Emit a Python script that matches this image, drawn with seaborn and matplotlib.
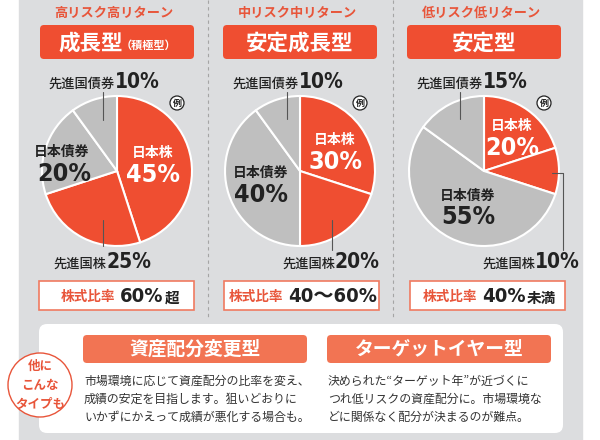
import numpy as np
import pandas as pd
import seaborn as sns
import matplotlib.pyplot as plt
from matplotlib.patches import FancyBboxPatch, Circle

# Data
risk_titles = ['高リスク高リターン', '中リスク中リターン', '低リスク低リターン']
fund_types = ['成長型', '安定成長型', '安定型']
fund_notes = ['（積極型）', '', '']
assets = ['日本株', '先進国株', '日本債券', '先進国債券']
growth = [45, 25, 20, 10]
balanced = [30, 20, 40, 10]
stable = [20, 10, 55, 15]
stock_ratio = ['60%', '40〜60%', '40%']
stock_suffix = ['超', '', '未満']
other_titles = ['資産配分変更型', 'ターゲットイヤー型']
other_texts = [
    ['市場環境に応じて資産配分の比率を変え、', '成績の安定を目指します。狙いどおりに', 'いかずにかえって成績が悪化する場合も。'],
    ['決められた“ターゲット年”が近づくに', 'つれ低リスクの資産配分に。市場環境な', 'どに関係なく配分が決まるのが難点。'],
]

sns.set_theme(style='white')
plt.rcParams['font.family'] = ['Noto Sans CJK JP', 'DejaVu Sans']
NUM = dict(family=['DejaVu Sans', 'Noto Sans CJK JP'], fontstretch='condensed', fontweight='bold')

RED = '#ef4e31'
GREY = '#bfbfbf'
PANEL = '#dcdddf'
TXT_RED = '#e8553a'
SALMON = '#f27453'
DARK = '#222222'

fig = plt.figure(figsize=(6, 4.4), dpi=100)
fig.patch.set_facecolor('white')
ax = fig.add_axes([0, 0, 1, 1])
renderer = fig.canvas.get_renderer()


def set_frame():
    ax.set_xlim(0, 600)
    ax.set_ylim(440, 0)
    ax.set_aspect('auto')


def right_edge(t):
    bb = t.get_window_extent(renderer=renderer)
    return ax.transData.inverted().transform((bb.x1, bb.y0))[0]


set_frame()

# background panel
ax.add_patch(plt.Rectangle((19, -5), 563, 450, color=PANEL, zorder=0))
for x in [208, 393]:
    ax.plot([x, x], [0, 318], ls=(0, (3, 3)), color='#a5a5a5', lw=0.8, zorder=1)

centers = [117, 300, 484]
shares = [growth, balanced, stable]
colors = [RED, RED, GREY, GREY]

# pies first (pie resets the axis limits)
for i, cx in enumerate(centers):
    ax.pie(shares[i], colors=colors, startangle=-90, counterclock=True,
           center=(cx, 171), radius=75,
           wedgeprops=dict(edgecolor='white', linewidth=1.5))
set_frame()

# layout of labels per pie
top_lab = [(115, 88), (299, 88), (483, 88)]
bot_lab = [(106, 268), (335, 268), (535, 268)]
jp_stock = [((153, 153), (153, 175)), ((335, 140), (335, 162)), ((512, 126), (512, 148))]
jp_bond = [((62, 152), (64, 174)), ((261, 173), (261, 195)), ((468, 196), (468, 217))]
leaders = [
    [[(103, 92), (103, 120)], [(103, 220), (103, 246)]],
    [[(287, 92), (287, 119)], [(332, 220), (332, 250)]],
    [[(460, 92), (460, 119)], [(552, 173), (563, 173), (563, 250)]],
]

for i, cx in enumerate(centers):
    vals = shares[i]

    # header
    ax.text(cx - 3, 13, risk_titles[i], ha='center', va='center', color=TXT_RED,
            fontsize=9.5, fontweight='bold')
    ax.add_patch(FancyBboxPatch((cx - 77, 25), 154, 34,
                                boxstyle='round,pad=0,rounding_size=4',
                                fc=RED, ec='none', zorder=3))
    if fund_notes[i]:
        ax.text(cx + 6, 43, fund_types[i], ha='right', va='center', color='white',
                fontsize=15.5, fontweight='bold', zorder=4)
        ax.text(cx + 4, 45, fund_notes[i], ha='left', va='center', color='white',
                fontsize=8, fontweight='bold', zorder=4)
    else:
        ax.text(cx, 43, fund_types[i], ha='center', va='center', color='white',
                fontsize=15.5, fontweight='bold', zorder=4)

    # outer labels
    x, y = top_lab[i]
    ax.text(x, y, assets[3], ha='right', va='baseline', color=DARK, fontsize=9.5, fontweight='medium')
    ax.text(x, y, f'{vals[3]}%', ha='left', va='baseline', color=DARK, fontsize=15, **NUM)
    x, y = bot_lab[i]
    ax.text(x, y, assets[1], ha='right', va='baseline', color=DARK, fontsize=9.5, fontweight='medium')
    ax.text(x, y, f'{vals[1]}%', ha='left', va='baseline', color=DARK, fontsize=15, **NUM)
    for seg in leaders[i]:
        xs, ys = zip(*seg)
        ax.plot(xs, ys, color='#555555', lw=0.8, zorder=3)

    # inner labels
    (nx, ny), (px, py) = jp_stock[i]
    ax.text(nx, ny, assets[0], ha='center', va='center', color='white', fontsize=10, fontweight='bold')
    ax.text(px, py, f'{vals[0]}%', ha='center', va='center', color='white', fontsize=18, **NUM)
    (nx, ny), (px, py) = jp_bond[i]
    ax.text(nx, ny, assets[2], ha='center', va='center', color=DARK, fontsize=10, fontweight='bold')
    ax.text(px, py, f'{vals[2]}%', ha='center', va='center', color=DARK, fontsize=18, **NUM)

    # example mark
    ex = cx + 60
    ax.add_patch(Circle((ex, 103), 7, fc='white', ec=DARK, lw=0.9, zorder=4))
    ax.text(ex, 103, '例', ha='center', va='center', fontsize=6.5, fontweight='bold', color=DARK, zorder=5)

    # stock ratio box
    bx = [39, 224, 410][i]
    ax.add_patch(plt.Rectangle((bx, 281), 155, 29, fc='white', ec='#f07a60', lw=1.2, zorder=3))
    sx = [115, 283, 477][i]
    ax.text(sx, 297, '株式比率', ha='right', va='center', color=TXT_RED, fontsize=9.8,
            fontweight='bold', zorder=4)
    t = ax.text(sx + 5, 296, stock_ratio[i], ha='left', va='center', color=DARK, fontsize=14.5,
                zorder=4, **NUM)
    if stock_suffix[i]:
        ax.text(right_edge(t) + 1, 298, stock_suffix[i], ha='left', va='center', color=DARK,
                fontsize=10.5, fontweight='bold', zorder=4)

# lower box
ax.add_patch(FancyBboxPatch((39, 324), 524, 109, boxstyle='round,pad=0,rounding_size=8',
                            fc='white', ec='none', zorder=2))
for j, (x0, x1) in enumerate([(83, 307), (327, 551)]):
    ax.add_patch(FancyBboxPatch((x0, 335), x1 - x0, 28, boxstyle='round,pad=0,rounding_size=4',
                                fc=SALMON, ec='none', zorder=3))
    ax.text((x0 + x1) / 2, 349, other_titles[j], ha='center', va='center', color='white',
            fontsize=13.5, fontweight='bold', zorder=4)
    for k, line in enumerate(other_texts[j]):
        ax.text(x0 + 1, 381 + 18 * k, line, ha='left', va='center', color='#333333',
                fontsize=8.6, zorder=4)

ax.add_patch(Circle((40, 385), 32, fc='white', ec=TXT_RED, lw=1.0, zorder=5))
for k, line in enumerate(['他に', 'こんな', 'タイプも']):
    ax.text(40, 366 + 19 * k, line, ha='center', va='center', color=TXT_RED,
            fontsize=9, fontweight='bold', zorder=6)

set_frame()
ax.axis('off')

fig.savefig('out.png', dpi=100)
